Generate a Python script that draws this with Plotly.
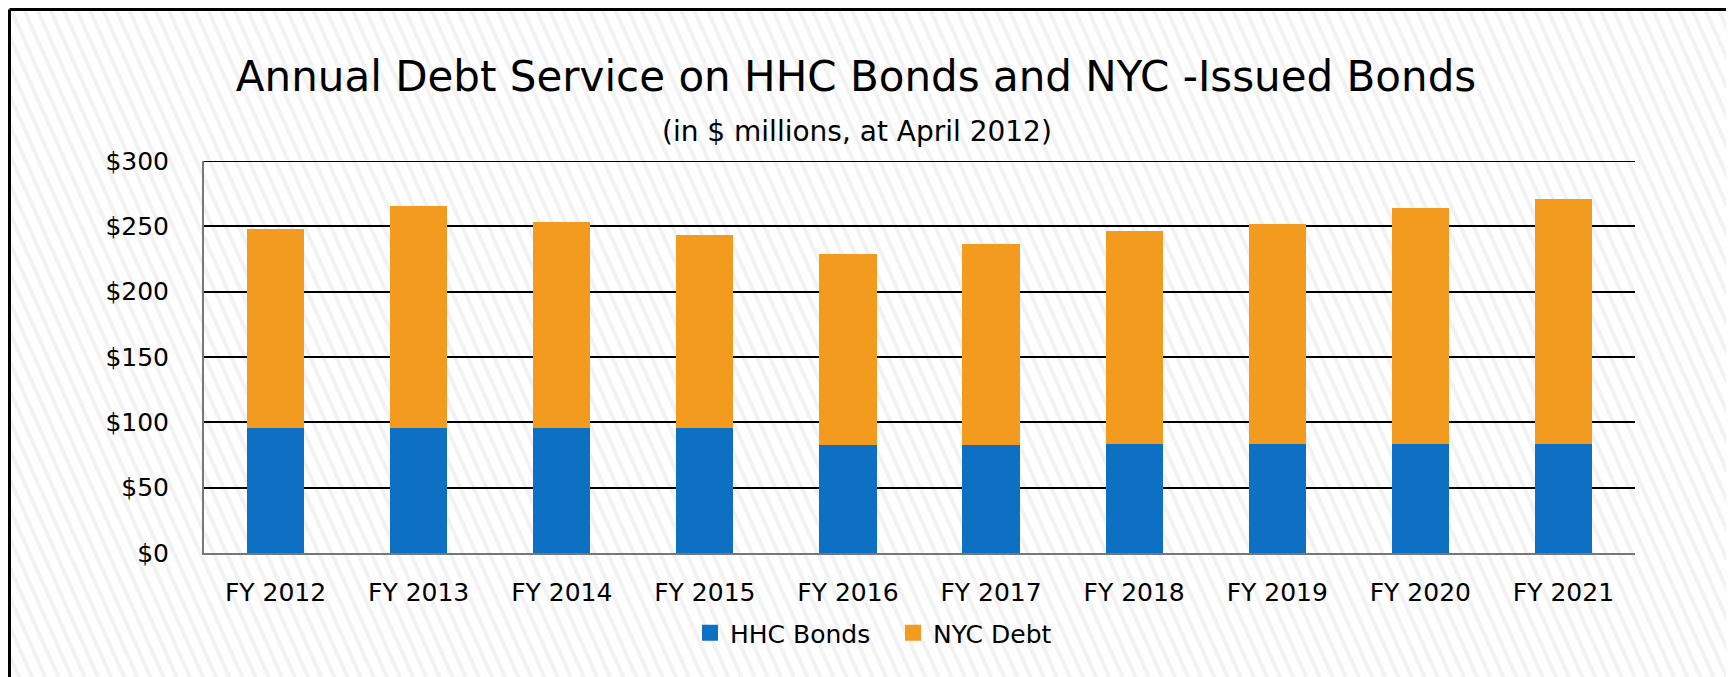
# Annual debt service on HHC bonds and NYC-issued bonds, stacked bars
import base64
import plotly.graph_objects as go

# %%
# Data (in $ millions)
years = ["FY 2012", "FY 2013", "FY 2014", "FY 2015", "FY 2016",
         "FY 2017", "FY 2018", "FY 2019", "FY 2020", "FY 2021"]
hhc_bonds = [95.7, 95.7, 95.9, 95.9, 82.9, 82.9, 83.2, 83.2, 83.5, 83.5]
nyc_debt = [151.9, 169.5, 157.2, 147.8, 146.3, 153.4, 163.0, 168.4, 180.4, 187.3]
y_ticks = [0, 50, 100, 150, 200, 250, 300]
y_tick_text = ["$0", "$50", "$100", "$150", "$200", "$250", "$300"]

# %%
# Page size and plot box (pixels). The page body adds an 8px offset,
# so screen positions are converted back to figure positions here.
W, H = 1734, 677
OFF = 8
L, R, T, B = 196, 107, 153, 132
pw, ph = W - L - R, H - T - B

def px(x):
    return (x - OFF - L) / pw

def py(y):
    return (H - B - (y - OFF)) / ph

# faint diagonal stripes behind everything
svg = f"""<svg xmlns='http://www.w3.org/2000/svg' width='{W}' height='{H}'>
<defs><pattern id='p' patternUnits='userSpaceOnUse' width='12' height='12' patternTransform='rotate(-24)'>
<rect width='12' height='12' fill='#ffffff'/><rect width='4' height='12' fill='#f2f2f2'/></pattern></defs>
<rect width='{W}' height='{H}' fill='url(#p)'/></svg>"""
bg_src = "data:image/svg+xml;base64," + base64.b64encode(svg.encode()).decode()

font = "DejaVu Sans"
colors = {"HHC Bonds": "#0E70C2", "NYC Debt": "#F39B1E"}

# %%
fig = go.Figure()
for name, vals in [("HHC Bonds", hhc_bonds), ("NYC Debt", nyc_debt)]:
    fig.add_trace(go.Bar(x=years, y=vals, name=name, showlegend=False,
                         marker=dict(color=colors[name], line=dict(width=0))))
# legend entries with bigger square swatches
for name in ["HHC Bonds", "NYC Debt"]:
    fig.add_trace(go.Scatter(x=[None], y=[None], mode="markers", name=name,
                             marker=dict(symbol="square", size=19, color=colors[name])))

fig.update_layout(
    width=W, height=H,
    margin=dict(l=L, r=R, t=T, b=B),
    barmode="stack",
    bargap=0.6,
    paper_bgcolor="white",
    plot_bgcolor="rgba(0,0,0,0)",
    font=dict(family=font, size=25, color="black"),
    title=dict(text="Annual Debt Service on HHC Bonds and NYC -Issued Bonds",
               x=(856 - OFF) / W, xanchor="center", y=1 - (76 - OFF) / H, yanchor="middle",
               font=dict(size=42, color="black")),
    xaxis=dict(showgrid=False, showline=True, linecolor="#777777", linewidth=2,
               ticks="", ticklabelstandoff=16, tickfont=dict(size=25)),
    yaxis=dict(range=[0, 300], tickvals=y_ticks, ticktext=y_tick_text,
               showgrid=True, gridcolor="black", gridwidth=2,
               showline=True, linecolor="#777777", linewidth=2,
               zeroline=False, ticks="", ticklabelstandoff=28, tickfont=dict(size=25)),
    legend=dict(orientation="h", traceorder="normal", x=px(893), xanchor="center",
                y=py(633), yanchor="middle", font=dict(size=25),
                itemwidth=30, entrywidth=158, entrywidthmode="pixels",
                bgcolor="rgba(0,0,0,0)"),
    images=[dict(source=bg_src, xref="paper", yref="paper",
                 x=-L / pw, y=(H - B) / ph, sizex=W / pw, sizey=H / ph,
                 xanchor="left", yanchor="top", sizing="stretch", layer="below")],
    annotations=[dict(text="(in $ millions, at April 2012)", xref="paper", yref="paper",
                      x=px(857), y=py(132), xanchor="center", yanchor="middle",
                      showarrow=False, font=dict(size=28, color="black"))],
    shapes=[
        # outer frame along the top and left page edges
        dict(type="line", xref="paper", yref="paper", x0=px(OFF + 1.5), x1=px(W + 20),
             y0=py(OFF + 1.5), y1=py(OFF + 1.5), line=dict(color="black", width=3)),
        dict(type="line", xref="paper", yref="paper", x0=px(OFF + 1.5), x1=px(OFF + 1.5),
             y0=py(OFF + 1.5), y1=py(H + 20), line=dict(color="black", width=3)),
        # top gridline across the plot box
        dict(type="line", xref="paper", yref="y", x0=0, x1=1, y0=300, y1=300,
             line=dict(color="black", width=2)),
    ],
)

fig.write_html("out.html")
